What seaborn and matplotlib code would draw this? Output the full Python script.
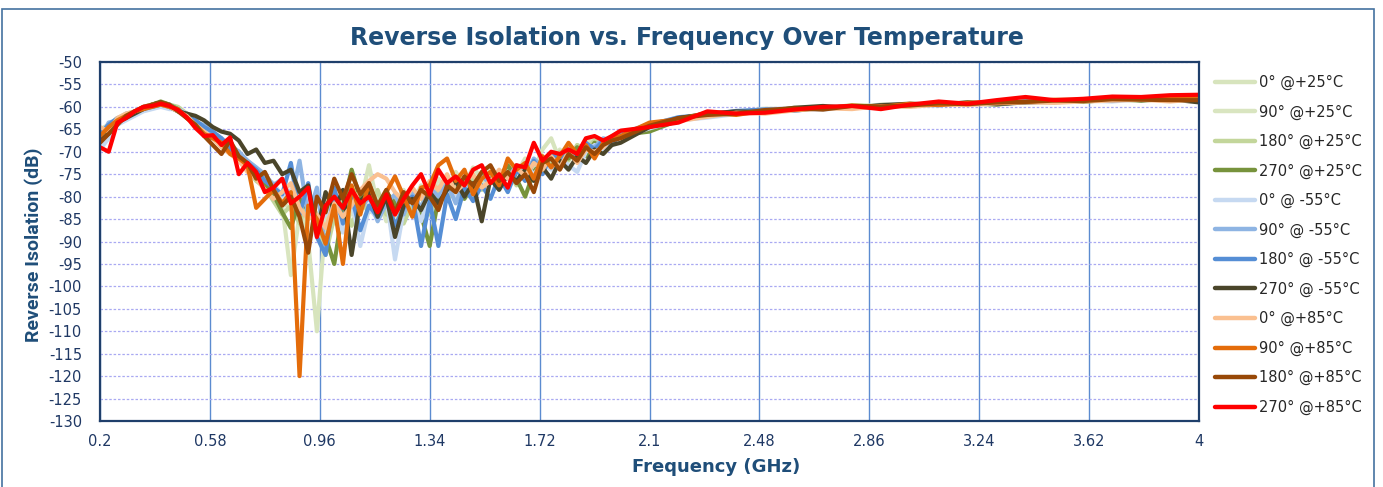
import matplotlib
matplotlib.use('Agg')
import matplotlib.pyplot as plt
from matplotlib.patches import Rectangle
import pandas as pd
import seaborn as sns

# frequency grid (GHz)
freq = [0.20, 0.23, 0.26, 0.29, 0.32, 0.35, 0.38, 0.41, 0.44, 0.47,
        0.50, 0.53, 0.56, 0.59, 0.62, 0.65, 0.68, 0.71, 0.74, 0.77,
        0.80, 0.83, 0.86, 0.89, 0.92, 0.95, 0.98, 1.01, 1.04, 1.07,
        1.10, 1.13, 1.16, 1.19, 1.22, 1.25, 1.28, 1.31, 1.34, 1.37,
        1.40, 1.43, 1.46, 1.49, 1.52, 1.55, 1.58, 1.61, 1.64, 1.67,
        1.70, 1.73, 1.76, 1.79, 1.82, 1.85, 1.88, 1.91, 1.94, 1.97,
        2.00, 2.1, 2.2, 2.3, 2.4, 2.5, 2.6, 2.7, 2.8, 2.9,
        3.0, 3.1, 3.2, 3.3, 3.4, 3.5, 3.6, 3.7, 3.8, 3.9, 4.0]

iso_0_p25 = [-65.0, -64.0, -62.5, -61.5, -61.0, -60.5, -59.5, -59.0, -59.5, -60.5,
             -61.5, -63.5, -64.5, -66.5, -68.0, -69.5, -71.5, -72.5, -75.0, -77.5,
             -79.0, -81.0, -83.0, -79.0, -90.0, -110.0, -85.0, -79.0, -84.0, -78.0,
             -81.5, -73.0, -82.0, -78.5, -84.5, -79.0, -82.0, -77.5, -80.5, -76.0,
             -79.0, -74.5, -77.5, -73.5, -76.0, -74.5, -77.5, -73.0, -75.0, -71.5,
             -74.0, -69.5, -67.0, -72.0, -69.0, -70.5, -68.0, -67.0, -68.0, -66.5,
             -65.5, -64.6, -62.9, -61.7, -61.2, -60.4, -60.6, -59.9, -60.2, -59.5,
             -59.7, -59.1, -59.3, -58.8, -59.0, -58.5, -58.3, -58.7, -58.0, -58.3, -58.2]

iso_90_p25 = [-66.5, -65.0, -63.0, -62.5, -61.5, -60.5, -60.0, -59.5, -60.0, -61.0,
              -62.0, -63.0, -65.0, -66.0, -67.5, -69.0, -70.5, -73.0, -74.5, -76.5,
              -79.0, -82.0, -97.5, -84.0, -80.5, -88.0, -82.5, -86.0, -80.0, -84.0,
              -79.5, -83.0, -80.0, -85.5, -81.0, -78.5, -83.0, -79.0, -82.0, -77.5,
              -80.0, -76.0, -78.5, -75.5, -77.0, -74.0, -76.5, -73.5, -75.0, -72.0,
              -74.5, -71.0, -72.5, -69.5, -71.5, -68.5, -70.0, -67.5, -68.5, -67.0,
              -65.8, -64.2, -63.1, -62.1, -61.0, -61.1, -60.3, -60.5, -59.8, -59.7,
              -59.4, -59.5, -59.1, -58.9, -59.1, -58.6, -58.8, -58.2, -58.5, -58.1, -57.9]

iso_180_p25 = [-66.0, -64.5, -63.5, -62.0, -61.0, -60.0, -59.5, -59.0, -59.5, -60.0,
               -61.5, -63.0, -65.0, -66.5, -68.0, -70.0, -71.0, -74.0, -76.5, -78.0,
               -81.0, -84.0, -82.0, -86.0, -80.0, -84.0, -93.0, -84.5, -80.0, -86.5,
               -81.0, -83.5, -78.5, -84.0, -80.5, -86.0, -81.5, -80.0, -84.0, -78.0,
               -81.0, -77.0, -79.5, -76.0, -78.5, -75.5, -77.0, -74.0, -77.5, -73.0,
               -75.5, -71.5, -73.0, -70.0, -72.0, -68.5, -69.5, -67.5, -68.5, -66.5,
               -66.0, -64.3, -62.7, -61.9, -61.1, -60.9, -60.2, -60.4, -59.6, -59.9,
               -59.5, -59.4, -59.0, -59.2, -58.7, -58.9, -58.4, -58.5, -58.3, -58.0, -58.1]

iso_270_p25 = [-67.0, -65.5, -63.0, -62.0, -61.5, -60.5, -59.5, -58.8, -59.5, -60.5,
               -62.0, -63.5, -65.0, -66.0, -67.5, -69.0, -70.0, -73.5, -75.5, -77.0,
               -79.5, -83.5, -87.0, -80.5, -83.0, -86.5, -89.0, -95.0, -82.5, -74.0,
               -80.5, -78.0, -83.0, -79.0, -81.5, -83.5, -80.0, -84.0, -91.0, -80.5,
               -78.0, -76.0, -80.5, -77.5, -75.0, -77.0, -75.5, -73.0, -76.0, -80.0,
               -74.5, -72.0, -73.5, -70.5, -71.5, -69.0, -71.0, -68.0, -69.5, -67.5,
               -66.3, -65.5, -63.0, -62.0, -61.4, -60.8, -60.7, -60.2, -59.9, -59.9,
               -59.8, -59.3, -59.2, -59.5, -58.8, -58.7, -58.9, -58.3, -58.6, -58.2, -58.0]

iso_0_m55 = [-69.5, -67.0, -64.0, -63.0, -62.0, -61.0, -60.5, -60.0, -60.5, -60.5,
             -61.5, -63.0, -64.5, -66.0, -67.5, -69.0, -70.5, -72.0, -73.5, -76.0,
             -77.0, -80.0, -78.5, -83.0, -80.0, -86.0, -84.0, -82.0, -88.0, -80.5,
             -91.0, -82.5, -85.0, -80.0, -94.0, -83.0, -81.0, -85.5, -79.5, -82.5,
             -78.0, -80.5, -77.0, -79.0, -78.0, -76.0, -78.5, -74.5, -76.5, -73.0,
             -75.0, -72.5, -74.0, -71.5, -73.0, -74.5, -70.0, -68.5, -69.5, -67.5,
             -66.8, -64.8, -63.0, -62.4, -61.6, -61.0, -60.5, -60.6, -60.0, -60.1,
             -59.6, -59.7, -59.2, -59.4, -58.9, -59.0, -58.6, -58.8, -58.3, -58.5, -58.6]

iso_90_m55 = [-67.0, -63.5, -63.0, -61.5, -61.5, -60.0, -60.0, -59.5, -59.5, -61.0,
              -61.5, -63.5, -64.0, -66.0, -67.0, -68.5, -70.0, -72.0, -73.5, -75.0,
              -77.5, -76.0, -81.0, -72.0, -84.5, -78.0, -91.5, -81.0, -85.0, -79.0,
              -83.0, -80.0, -85.5, -81.5, -79.5, -84.0, -79.0, -82.5, -78.0, -80.0,
              -77.0, -81.5, -76.5, -78.5, -75.5, -77.0, -74.5, -76.0, -73.0, -75.5,
              -71.5, -73.5, -71.0, -72.5, -69.5, -70.5, -68.5, -69.0, -67.0, -67.5,
              -66.0, -63.8, -62.6, -61.6, -61.2, -60.5, -60.4, -60.0, -60.1, -59.7,
              -59.5, -59.3, -59.5, -59.0, -59.1, -58.6, -58.6, -58.4, -58.2, -58.0, -58.4]

iso_180_m55 = [-66.0, -64.0, -62.5, -62.0, -61.0, -60.5, -60.0, -59.5, -60.0, -60.5,
               -62.0, -63.0, -64.5, -65.5, -67.0, -69.5, -71.5, -72.5, -74.0, -76.5,
               -78.0, -79.5, -72.5, -84.0, -77.0, -89.0, -93.0, -78.0, -86.0, -80.0,
               -87.5, -82.0, -84.5, -80.0, -86.5, -82.5, -80.0, -91.0, -81.0, -91.0,
               -79.5, -85.0, -78.0, -81.0, -77.5, -80.5, -75.5, -79.0, -74.0, -76.5,
               -72.0, -75.0, -70.5, -72.0, -69.5, -71.0, -68.0, -69.5, -67.5, -68.5,
               -66.0, -64.0, -62.3, -61.8, -60.9, -60.6, -60.9, -60.1, -59.9, -60.2,
               -59.4, -59.6, -59.3, -59.3, -58.8, -58.9, -58.5, -58.6, -58.1, -58.3, -58.2]

iso_270_m55 = [-67.5, -66.0, -63.5, -62.5, -61.5, -60.5, -59.5, -59.0, -60.0, -61.0,
               -61.5, -62.0, -63.0, -64.5, -65.5, -66.0, -67.5, -70.5, -69.5, -72.5,
               -72.0, -75.0, -74.0, -79.0, -77.5, -88.0, -79.0, -83.0, -78.5, -93.0,
               -81.0, -79.0, -84.5, -80.0, -89.0, -82.0, -80.5, -83.0, -79.0, -81.5,
               -78.5, -76.5, -80.0, -77.0, -85.5, -76.0, -78.5, -75.0, -76.5, -74.0,
               -76.5, -73.5, -76.0, -72.0, -74.0, -71.0, -72.5, -69.5, -70.5, -68.5,
               -68.0, -64.5, -62.5, -61.5, -61.0, -61.2, -60.2, -59.8, -60.3, -59.6,
               -59.3, -59.5, -59.0, -59.4, -59.0, -58.8, -58.7, -58.2, -58.5, -58.3, -59.0]

iso_0_p85 = [-64.5, -65.5, -62.5, -61.5, -61.0, -60.0, -59.5, -59.5, -60.0, -61.0,
             -62.0, -64.0, -65.5, -67.0, -69.0, -70.5, -72.0, -74.5, -76.0, -78.5,
             -80.5, -79.0, -77.0, -82.5, -85.0, -84.0, -87.0, -81.5, -84.5, -82.0,
             -78.5, -76.5, -75.0, -76.0, -79.0, -81.0, -78.0, -80.5, -76.5, -78.5,
             -75.0, -79.0, -77.0, -75.0, -78.0, -76.5, -74.0, -76.0, -73.5, -75.5,
             -72.5, -74.0, -71.0, -73.5, -70.0, -72.5, -69.5, -70.0, -69.0, -67.0,
             -66.5, -64.0, -63.2, -62.2, -61.3, -61.5, -60.8, -60.3, -60.5, -59.8,
             -60.0, -59.5, -59.6, -59.2, -59.0, -59.1, -58.8, -58.6, -58.4, -58.8, -58.3]

iso_90_p85 = [-66.5, -64.5, -63.0, -62.0, -61.0, -60.5, -60.0, -59.5, -60.0, -60.5,
              -62.5, -64.0, -66.0, -67.0, -68.0, -70.5, -71.5, -73.0, -82.5, -80.5,
              -78.5, -81.5, -79.0, -120.0, -82.0, -85.0, -90.5, -82.0, -95.0, -77.5,
              -84.0, -77.0, -82.5, -79.0, -75.5, -80.0, -84.5, -78.0, -77.5, -73.0,
              -71.5, -76.5, -74.0, -79.5, -76.0, -74.5, -77.5, -71.5, -74.0, -72.5,
              -76.0, -71.0, -73.5, -71.0, -68.0, -70.5, -68.5, -71.5, -68.0, -67.0,
              -66.5, -63.5, -62.8, -61.3, -61.8, -60.8, -60.6, -60.4, -59.7, -60.0,
              -59.3, -59.6, -59.1, -59.0, -58.9, -58.4, -58.5, -58.0, -57.9, -58.2, -57.8]

iso_180_p85 = [-68.0, -66.0, -64.0, -62.0, -61.0, -60.0, -59.5, -59.0, -59.5, -61.0,
               -62.5, -64.0, -66.5, -68.5, -70.5, -67.5, -71.0, -72.5, -76.0, -74.5,
               -78.5, -82.0, -80.0, -84.5, -92.5, -80.0, -83.5, -76.0, -80.5, -75.0,
               -79.5, -77.0, -82.0, -78.5, -83.5, -79.0, -81.5, -78.5, -80.0, -83.0,
               -77.5, -79.0, -75.5, -77.5, -74.5, -73.0, -76.5, -74.5, -77.0, -75.0,
               -79.0, -72.5, -71.5, -74.0, -70.5, -72.0, -69.0, -70.5, -68.5, -67.5,
               -67.0, -64.2, -62.5, -61.8, -61.5, -60.7, -60.3, -60.6, -59.8, -59.9,
               -59.7, -59.2, -59.4, -59.0, -58.9, -58.6, -58.7, -58.3, -58.4, -58.5, -58.5]

iso_270_p85 = [-69.0, -70.0, -63.5, -62.5, -61.0, -60.0, -59.8, -59.3, -59.8, -60.7,
               -62.3, -64.7, -66.5, -66.3, -68.5, -66.8, -75.0, -72.5, -74.5, -79.0,
               -78.0, -76.0, -81.5, -80.0, -78.0, -89.0, -82.0, -80.0, -82.5, -78.5,
               -81.5, -80.0, -83.5, -79.5, -84.0, -80.5, -77.5, -75.0, -79.5, -74.0,
               -77.0, -75.5, -77.5, -74.0, -73.0, -77.0, -75.0, -78.0, -73.0, -73.5,
               -68.0, -72.0, -70.0, -70.5, -69.5, -70.5, -67.0, -66.5, -67.5, -66.5,
               -65.3, -64.5, -63.5, -61.0, -61.5, -61.3, -60.6, -60.0, -59.8, -60.5,
               -59.5, -58.8, -59.3, -58.5, -57.8, -58.5, -58.2, -57.7, -57.8, -57.4, -57.3]

labels = ['0° @+25°C', '90° @+25°C', '180° @+25°C', '270° @+25°C',
          '0° @ -55°C', '90° @ -55°C', '180° @ -55°C', '270° @ -55°C',
          '0° @+85°C', '90° @+85°C', '180° @+85°C', '270° @+85°C']
colors = ['#D7E4BD', '#D9E5C0', '#C3D69B', '#77933C',
          '#C6D9F1', '#8EB4E3', '#558ED5', '#4A452A',
          '#FAC090', '#E46C0A', '#984807', '#FF0000']
curves = [iso_0_p25, iso_90_p25, iso_180_p25, iso_270_p25,
          iso_0_m55, iso_90_m55, iso_180_m55, iso_270_m55,
          iso_0_p85, iso_90_p85, iso_180_p85, iso_270_p85]

df = pd.concat([pd.DataFrame({'f': freq, 'dB': c, 'series': lab})
                for c, lab in zip(curves, labels)], ignore_index=True)

sns.set_style('white')
plt.rcParams['axes.unicode_minus'] = False
navy = '#1F4E79'

fig = plt.figure(figsize=(13.83, 4.87), dpi=100)
ax = fig.add_axes([100 / 1383, 1 - 421 / 487, 1099 / 1383, 359 / 487])

sns.lineplot(data=df, x='f', y='dB', hue='series', hue_order=labels,
             palette=dict(zip(labels, colors)), estimator=None, sort=False,
             linewidth=3.0, ax=ax)

ax.set_xlim(0.2, 4)
ax.set_ylim(-130, -50)
xt = [0.2, 0.58, 0.96, 1.34, 1.72, 2.1, 2.48, 2.86, 3.24, 3.62, 4]
ax.set_xticks(xt)
ax.set_xticklabels(['0.2', '0.58', '0.96', '1.34', '1.72', '2.1', '2.48',
                    '2.86', '3.24', '3.62', '4'])
ax.set_yticks(range(-130, -45, 5))
ax.set_xlabel('')
ax.set_ylabel('')

ax.set_axisbelow(True)
ax.xaxis.grid(True, color='#5B8BD0', lw=1.0)
ax.yaxis.grid(True, color='#A9A9F2', lw=0.9, ls=(0, (2, 1.5)))
for s in ax.spines.values():
    s.set_color('#1F3F6B')
    s.set_linewidth(1.6)
ax.tick_params(axis='both', length=0, labelsize=10.5, labelcolor='#1F3864')
ax.tick_params(axis='y', pad=13)
ax.tick_params(axis='x', pad=9)

handles, labs = ax.get_legend_handles_labels()
leg = ax.legend(handles, labs, loc='upper left',
                bbox_to_anchor=(1215 / 1383, 1 - 75 / 487),
                bbox_transform=fig.transFigure, frameon=False, fontsize=10.5,
                handlelength=2.75, handletextpad=0.25, labelspacing=0.98,
                borderpad=0, borderaxespad=0)
for ln in leg.get_lines():
    ln.set_linewidth(3.2)
for t in leg.get_texts():
    t.set_color('#262626')

fig.text(687 / 1383, 1 - 38 / 487, 'Reverse Isolation vs. Frequency Over Temperature',
         ha='center', va='center', fontsize=17, fontweight='bold', color=navy)
fig.text(716 / 1383, 1 - 467 / 487, 'Frequency (GHz)', ha='center', va='center',
         fontsize=13, fontweight='bold', color=navy)
fig.text(34 / 1383, 1 - 245 / 487, 'Reverse Isolation (dB)', ha='center', va='center',
         rotation=90, fontsize=14, fontweight='bold', color=navy,
         family=['Roboto', 'DejaVu Sans'])

fig.patches.append(Rectangle((2 / 1383, -0.05), 1372 / 1383, 1 - 9 / 487 + 0.05,
                             transform=fig.transFigure, fill=False,
                             ec='#4472A0', lw=1.2))

fig.savefig('out.png', dpi=100)
